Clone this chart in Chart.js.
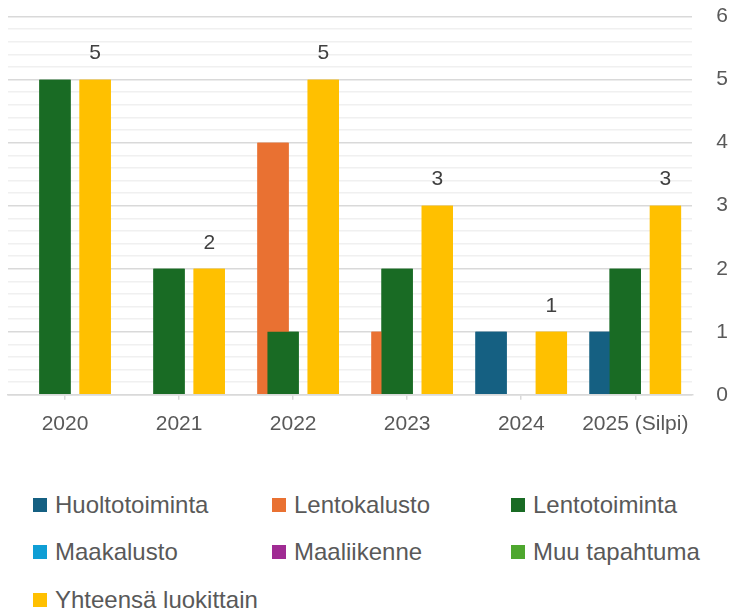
<!DOCTYPE html>
<html>
<head>
<meta charset="utf-8">
<script src="https://cdn.jsdelivr.net/npm/chart.js@4"></script>
<style>
  body { margin: 0; background: #fff; }
  #wrap { position: relative; width: 736px; height: 614px; }
  #myChart { position: absolute; left: 0; top: 0; }
  #legend {
    position: absolute; left: 33px; top: 481px;
    display: grid; grid-template-columns: 239px 239px 239px; row-gap: 0;
    font-family: "Liberation Sans", Arial, sans-serif; font-size: 24px; color: #595959;
  }
  .item { height: 47.5px; display: flex; align-items: center; white-space: nowrap; }
  .box { width: 14px; height: 14px; margin-right: 8px; flex: none; }
</style>
</head>
<body>
<div id="wrap">
  <canvas id="myChart" width="736" height="453"></canvas>
  <div id="legend"></div>
</div>
<script>
const years = ['2020', '2021', '2022', '2023', '2024', '2025 (Silpi)']
const seriesNames = ['Huoltotoiminta', 'Lentokalusto', 'Lentotoiminta', 'Maakalusto', 'Maaliikenne', 'Muu tapahtuma', 'Yhteensä luokittain']
const huoltotoiminta = [0, 0, 0, 0, 1, 1]
const lentokalusto = [0, 0, 4, 1, 0, 0]
const lentotoiminta = [5, 2, 1, 2, 0, 2]
const maakalusto = [0, 0, 0, 0, 0, 0]
const maaliikenne = [0, 0, 0, 0, 0, 0]
const muuTapahtuma = [0, 0, 0, 0, 0, 0]
const yhteensa = [5, 2, 5, 3, 1, 3]
const colors = ['#156082', '#E97132', '#196B24', '#0F9ED5', '#A02B93', '#4EA72E', '#FFC000']

const values = [huoltotoiminta, lentokalusto, lentotoiminta, maakalusto, maaliikenne, muuTapahtuma, yhteensa]

// Chart.js paints the first dataset on top, Excel the last one -> repaint in order,
// then put the numbers on the total bars
const overlapAndLabels = {
  id: 'overlapAndLabels',
  afterDatasetsDraw(chart) {
    for (let i = 0; i < chart.data.datasets.length; i++) {
      chart.getDatasetMeta(i).controller.draw()
    }
    const ctx = chart.ctx
    const meta = chart.getDatasetMeta(6)
    ctx.save()
    ctx.font = '21px "Liberation Sans", Arial, sans-serif'
    ctx.fillStyle = '#404040'
    ctx.textAlign = 'center'
    ctx.textBaseline = 'middle'
    meta.data.forEach(function(bar, i) {
      ctx.fillText(String(yhteensa[i]), bar.x, bar.y - 26)
    })
    ctx.restore()
  }
}

const isMajor = v => Math.abs(v - Math.round(v)) < 1e-6

var ctx = document.getElementById('myChart').getContext('2d')
var chart = new Chart(ctx, {
  type: 'bar',
  data: {
    labels: years,
    datasets: seriesNames.map(function(name, i) {
      return {
        label: name,
        data: values[i],
        backgroundColor: colors[i],
        borderWidth: 0,
        categoryPercentage: 0.617,
        barPercentage: 3.11
      }
    })
  },
  options: {
    responsive: false,
    animation: false,
    layout: { padding: { left: 8, right: 4, top: 16, bottom: 4 } },
    plugins: { legend: { display: false }, tooltip: { enabled: false } },
    scales: {
      x: {
        grid: {
          offset: false,
          drawOnChartArea: false,
          drawTicks: true,
          tickLength: 5,
          color: '#d9d9d9',
          lineWidth: 1.5
        },
        border: { display: true, color: '#d9d9d9', width: 1.5 },
        ticks: {
          maxRotation: 0,
          autoSkip: false,
          padding: 12,
          color: '#595959',
          font: { family: '"Liberation Sans", Arial, sans-serif', size: 21 }
        }
      },
      y: {
        position: 'right',
        min: 0,
        max: 6,
        grid: {
          drawTicks: true,
          tickLength: 20,
          tickColor: 'rgba(0,0,0,0)',
          color: c => isMajor(c.tick.value) ? '#d9d9d9' : '#f0f0f0',
          lineWidth: 1.5
        },
        border: { display: false },
        ticks: {
          stepSize: 0.2,
          autoSkip: false,
          padding: 4,
          color: '#595959',
          font: { family: '"Liberation Sans", Arial, sans-serif', size: 21 },
          callback: v => isMajor(v) ? String(Math.round(v)) : ''
        }
      }
    }
  },
  plugins: [overlapAndLabels]
})

// legend in three columns
const legend = document.getElementById('legend')
seriesNames.forEach(function(name, i) {
  const item = document.createElement('div')
  item.className = 'item'
  item.innerHTML = '<span class="box" style="background:' + colors[i] + '"></span>' + name
  legend.appendChild(item)
})
</script>
</body>
</html>
